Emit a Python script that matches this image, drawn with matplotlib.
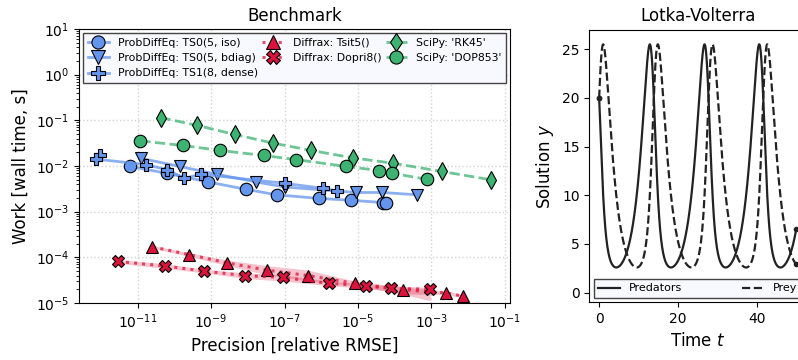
import numpy as np
import matplotlib
matplotlib.use("Agg")
import matplotlib.pyplot as plt
from matplotlib.colors import to_rgba

# ---------------- data (log10 values) ----------------
ts0_iso_prec = [-11.22, -10.20, -9.08, -8.06, -7.22, -6.06, -5.19, -4.33, -4.24]
ts0_iso_work = [-2.01, -2.16, -2.35, -2.51, -2.63, -2.71, -2.75, -2.80, -2.81]

ts0_bdiag_prec = [-10.92, -9.86, -8.85, -7.77, -6.99, -5.06, -4.34, -3.40]
ts0_bdiag_work = [-1.83, -2.01, -2.18, -2.35, -2.46, -2.58, -2.58, -2.63]

ts1_dense_prec = [-12.02, -12.13, -10.77, -10.21, -9.73, -9.28, -6.99, -5.95, -5.56]
ts1_dense_work = [-1.75, -1.85, -1.97, -2.08, -2.27, -2.18, -2.38, -2.49, -2.55]

tsit5_prec = [-10.60, -9.60, -8.57, -7.49, -6.35, -5.09, -3.77, -2.59, -2.14]
tsit5_work = [-3.77, -3.94, -4.12, -4.28, -4.40, -4.57, -4.71, -4.78, -4.85]
tsit5_work_lo = [-3.80, -3.98, -4.18, -4.38, -4.52, -4.62, -4.80, -4.82, -4.88]
tsit5_work_hi = [-3.74, -3.90, -4.06, -4.18, -4.28, -4.52, -4.65, -4.74, -4.82]

dopri8_prec = [-11.54, -10.26, -9.20, -8.09, -7.05, -5.80, -4.78, -4.09, -3.03]
dopri8_work = [-4.09, -4.19, -4.30, -4.40, -4.44, -4.57, -4.63, -4.68, -4.70]
dopri8_work_lo = [-4.13, -4.24, -4.34, -4.46, -4.52, -4.62, -4.68, -4.75, -4.95]
dopri8_work_hi = [-4.05, -4.14, -4.26, -4.34, -4.38, -4.52, -4.59, -4.62, -4.66]

rk45_prec = [-10.38, -9.38, -8.36, -7.31, -6.27, -5.15, -4.04, -2.72, -1.39]
rk45_work = [-0.94, -1.11, -1.31, -1.50, -1.66, -1.82, -1.94, -2.12, -2.30]

dop853_prec = [-10.93, -9.78, -8.75, -7.57, -6.68, -5.33, -4.42, -4.07, -3.13]
dop853_work = [-1.45, -1.55, -1.66, -1.77, -1.86, -2.01, -2.10, -2.16, -2.29]

# Lotka-Volterra problem (initial values, parameters, time span)
lv_u0 = [20.0, 20.0]
lv_params = [0.5, 0.05, 0.5, 0.05]
lv_tspan = [0.0, 50.0]
lv_labels = ["Predators", "Prey"]

# ---------------- figure ----------------
BLUE = "cornflowerblue"
RED = "crimson"
GREEN = "mediumseagreen"

fig = plt.figure(figsize=(7.98, 3.60), dpi=100)
ax = fig.add_axes([79 / 798, 1 - 303 / 360, (510 - 79) / 798, (303 - 29) / 360])
ax2 = fig.add_axes([589.3 / 798, 1 - 302.3 / 360, (806 - 589.3) / 798, (302.3 - 29.7) / 360])


def series(prec, work, color, marker, ls, label, ms=9, lw=2.0, alpha=0.75):
    x = 10.0 ** np.asarray(prec)
    y = 10.0 ** np.asarray(work)
    ax.plot(x, y, linestyle=ls, color=to_rgba(color, alpha), lw=lw,
            marker=marker, markersize=ms, markerfacecolor=color,
            markeredgecolor="black", markeredgewidth=0.8, label=label)


def band(prec, lo, hi, color):
    ax.fill_between(10.0 ** np.asarray(prec), 10.0 ** np.asarray(lo),
                    10.0 ** np.asarray(hi), color=color, alpha=0.25, lw=0)


band(tsit5_prec, tsit5_work_lo, tsit5_work_hi, RED)
band(dopri8_prec, dopri8_work_lo, dopri8_work_hi, RED)

series(ts0_iso_prec, ts0_iso_work, BLUE, "o", "-", "ProbDiffEq: TS0(5, iso)")
series(ts0_bdiag_prec, ts0_bdiag_work, BLUE, "v", "-", "ProbDiffEq: TS0(5, bdiag)")
series(ts1_dense_prec, ts1_dense_work, BLUE, "P", "-", "ProbDiffEq: TS1(8, dense)")
series(tsit5_prec, tsit5_work, RED, "^", ":", "Diffrax: Tsit5()", lw=2.2)
series(dopri8_prec, dopri8_work, RED, "X", ":", "Diffrax: Dopri8()", lw=2.2)
series(rk45_prec, rk45_work, GREEN, "d", "--", "SciPy: 'RK45'", ms=9)
series(dop853_prec, dop853_work, GREEN, "o", "--", "SciPy: 'DOP853'")

ax.set_xscale("log")
ax.set_yscale("log")
ax.set_xlim(10 ** -12.6, 10 ** -0.86)
ax.set_ylim(1e-5, 1e1)
ax.set_xticks([1e-11, 1e-9, 1e-7, 1e-5, 1e-3, 1e-1])
ax.xaxis.set_minor_locator(matplotlib.ticker.NullLocator())
ax.grid(True, which="major", linestyle=":", color="lightgray", lw=1)
ax.set_title("Benchmark", fontsize=12)
ax.set_xlabel("Precision [relative RMSE]", fontsize=12)
ax.set_ylabel("Work [wall time, s]", fontsize=12)
ax.tick_params(labelsize=10)
leg = ax.legend(loc="upper left", ncol=3, fontsize=7.8, mode="expand",
                bbox_to_anchor=(0.0, 0.0, 1.0, 1.0), handlelength=2.0,
                columnspacing=0.8, handletextpad=0.8, borderaxespad=0.4,
                fancybox=False, framealpha=1.0, labelspacing=0.5,
                markerscale=1.05)
leg.get_frame().set_facecolor("#f8f8ff")
leg.get_frame().set_edgecolor("#444444")

# ---------------- Lotka-Volterra solution ----------------
a, b, c, d = lv_params


def f(u):
    return np.array([a * u[0] - b * u[0] * u[1], -c * u[1] + d * u[0] * u[1]])


ts = np.linspace(lv_tspan[0], lv_tspan[1], 2001)
us = np.zeros((len(ts), 2))
us[0] = lv_u0
for i in range(len(ts) - 1):
    h = ts[i + 1] - ts[i]
    u = us[i]
    k1 = f(u)
    k2 = f(u + h / 2 * k1)
    k3 = f(u + h / 2 * k2)
    k4 = f(u + h * k3)
    us[i + 1] = u + h / 6 * (k1 + 2 * k2 + 2 * k3 + k4)

LC = "#222222"
ax2.plot(ts, us[:, 0], color=LC, ls="-", lw=1.6, label=lv_labels[0])
ax2.plot(ts, us[:, 1], color=LC, ls="--", lw=1.6, label=lv_labels[1])
ax2.plot([ts[0], ts[0]], us[0], "o", color=LC, ms=3)
ax2.plot([ts[-1], ts[-1]], us[-1], "o", color=LC, ms=3)
ax2.set_xlim(-2.5, 52.5)
ax2.set_ylim(-1.0, 27.0)
ax2.set_xticks([0, 20, 40])
ax2.set_yticks([0, 5, 10, 15, 20, 25])
ax2.tick_params(labelsize=10)
ax2.set_title("Lotka-Volterra", fontsize=12)
ax2.set_xlabel("Time $t$", fontsize=12)
ax2.set_ylabel("Solution $y$", fontsize=12)
leg2 = ax2.legend(loc="lower left", ncol=2, mode="expand", fontsize=8,
                  bbox_to_anchor=(0.0, 0.0, 1.0, 1.0), fancybox=False,
                  framealpha=1.0, borderaxespad=0.4)
leg2.get_frame().set_facecolor("#f8f8ff")
leg2.get_frame().set_edgecolor("#444444")

fig.savefig("out.png", dpi=100)
